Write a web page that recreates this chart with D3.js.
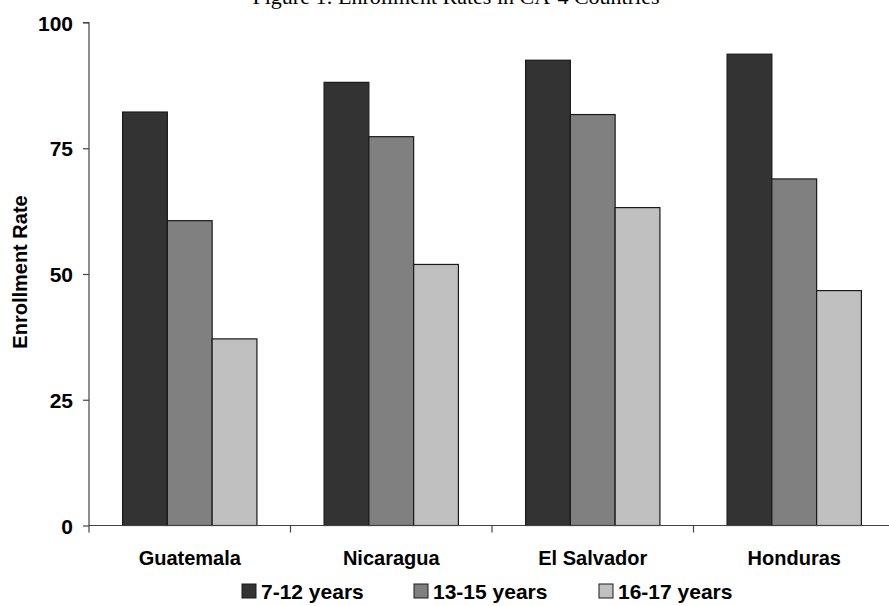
<!DOCTYPE html>
<html>
<head>
<meta charset="utf-8">
<script src="https://cdn.jsdelivr.net/npm/d3@7"></script>
<style>
  html, body { margin: 0; padding: 0; background: #fff; }
  svg { display: block; }
</style>
</head>
<body>
<svg id="chart" width="889" height="606"></svg>
<script>
const title = "Figure 1: Enrollment Rates in CA-4 Countries";
const yLabel = "Enrollment Rate";
const categories = ["Guatemala", "Nicaragua", "El Salvador", "Honduras"];
const seriesNames = ["7-12 years", "13-15 years", "16-17 years"];
const age7to12 = [82.2, 88.1, 92.5, 93.7];
const age13to15 = [60.6, 77.3, 81.7, 68.9];
const age16to17 = [37.1, 51.9, 63.2, 46.7];
const yTicks = [0, 25, 50, 75, 100];
const colors = ["#333333", "#808080", "#c0c0c0"];

const seriesValues = [age7to12, age13to15, age16to17];

(function () {
const svg = d3.select("#chart");
const mLeft = 89, mRight = 895, mTop = 22.5, mBottom = 525.5;
const font = "'Liberation Sans', Arial, Helvetica, sans-serif";

const x = d3.scaleBand().domain(categories).range([mLeft, mRight]).padding(0);
const xs = d3.scaleBand().domain(seriesNames).range([0, x.bandwidth()])
  .paddingInner(0).paddingOuter(0.75);
const y = d3.scaleLinear().domain([0, 100]).range([mBottom, mTop]);

// Title (cut off at top)
svg.append("text")
  .attr("x", 456).attr("y", 3.5)
  .attr("text-anchor", "middle")
  .attr("font-family", "'Liberation Serif', 'Times New Roman', serif")
  .attr("font-size", 22)
  .attr("fill", "#000")
  .text(title);

// Bars
const groups = svg.append("g").selectAll("g")
  .data(categories).join("g")
  .attr("transform", d => `translate(${x(d)},0)`);

groups.selectAll("rect")
  .data((c, i) => seriesNames.map((s, j) => ({ s, j, v: seriesValues[j][i] })))
  .join("rect")
  .attr("x", d => xs(d.s))
  .attr("y", d => y(d.v))
  .attr("width", xs.bandwidth())
  .attr("height", d => y(0) - y(d.v))
  .attr("fill", d => colors[d.j])
  .attr("stroke", "#1a1a1a")
  .attr("stroke-width", 1.2);

// Y axis
const yAxis = d3.axisLeft(y).tickValues(yTicks).tickSize(6).tickPadding(10).tickFormat(d3.format("d"));
const gy = svg.append("g").attr("transform", `translate(${mLeft},0)`).call(yAxis);
gy.select(".domain").attr("stroke", "#444").attr("stroke-width", 1.2).attr("d", `M-6,${mTop}H0V${mBottom + 7}`);
gy.selectAll(".tick line").attr("stroke", "#444").attr("stroke-width", 1.2);
gy.selectAll(".tick text")
  .attr("font-family", font).attr("font-weight", "bold").attr("font-size", 21)
  .attr("fill", "#000").attr("dy", "0.36em");

// X axis
const xAxis = d3.axisBottom(x).tickSize(0).tickPadding(25);
const gx = svg.append("g").attr("transform", `translate(0,${mBottom})`).call(xAxis);
gx.select(".domain").attr("stroke", "#444").attr("stroke-width", 1.2).attr("d", `M${mLeft},0H${mRight}`);
gx.selectAll(".tick text")
  .attr("font-family", font).attr("font-weight", "bold").attr("font-size", 20)
  .attr("fill", "#000");
gx.append("g").selectAll("line")
  .data(categories.slice(1))
  .join("line")
  .attr("x1", d => x(d)).attr("x2", d => x(d))
  .attr("y1", 0).attr("y2", 7)
  .attr("stroke", "#444").attr("stroke-width", 1.2);

// Y label
svg.append("text")
  .attr("transform", `translate(27,272) rotate(-90)`)
  .attr("text-anchor", "middle")
  .attr("font-family", font).attr("font-weight", "bold").attr("font-size", 20)
  .attr("fill", "#000")
  .text(yLabel);

// Legend
const legendX = [242, 414, 599];
const leg = svg.append("g").selectAll("g")
  .data(seriesNames).join("g")
  .attr("transform", (d, i) => `translate(${legendX[i]},584)`);
leg.append("rect")
  .attr("width", 14).attr("height", 14)
  .attr("fill", (d, i) => colors[i])
  .attr("stroke", "#1a1a1a").attr("stroke-width", 1);
leg.append("text")
  .attr("x", 19).attr("y", 15)
  .attr("font-family", font).attr("font-weight", "bold").attr("font-size", 21)
  .attr("fill", "#000")
  .text(d => d);
})();
</script>
</body>
</html>
